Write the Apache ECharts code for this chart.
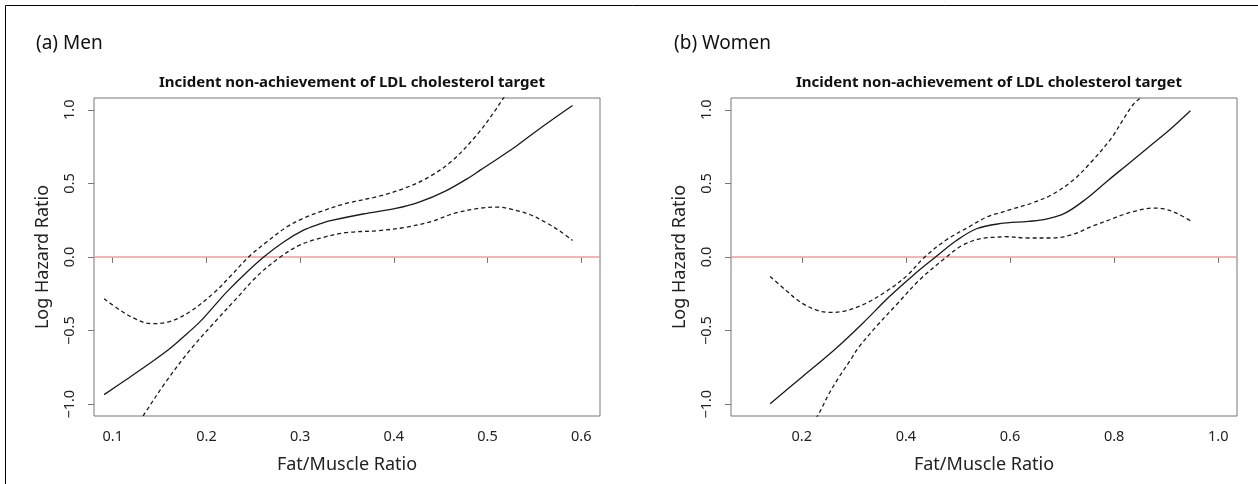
<!DOCTYPE html>
<html>
<head>
<meta charset="utf-8">
<script src="https://cdn.jsdelivr.net/npm/echarts@6/dist/echarts.min.js"></script>
<style>
  html, body { margin: 0; padding: 0; background: #ffffff; }
  #chart { width: 1258px; height: 484px; }
</style>
</head>
<body>
<div id="chart"></div>
<script>
// ---- Data ----
const panelLabels = ['(a) Men', '(b) Women'];
const panelTitle = 'Incident non-achievement of LDL cholesterol target';
const xAxisName = 'Fat/Muscle Ratio';
const yAxisName = 'Log Hazard Ratio';

const menXTicks = [0.1, 0.2, 0.3, 0.4, 0.5, 0.6];
const womenXTicks = [0.2, 0.4, 0.6, 0.8, 1.0];
const yTicks = [-1.0, -0.5, 0.0, 0.5, 1.0];

// Men: log hazard ratio estimate and 95% CI (x, y)
const menFit = [
  [0.0908,-0.935],[0.115,-0.83],[0.14,-0.72],[0.1597,-0.629],[0.175,-0.545],
  [0.1935,-0.437],[0.21,-0.32],[0.222,-0.235],[0.2433,-0.102],[0.2611,0.0],
  [0.2824,0.102],[0.3036,0.182],[0.3216,0.226],[0.33,0.243],[0.367,0.292],
  [0.402,0.330],[0.427,0.373],[0.455,0.448],[0.483,0.55],[0.4922,0.59],
  [0.5064,0.649],[0.5277,0.74],[0.549,0.841],[0.5704,0.939],[0.5907,1.029]
];
const menUpper = [
  [0.0908,-0.284],[0.1096,-0.369],[0.1257,-0.425],[0.1402,-0.453],[0.1615,-0.437],
  [0.1829,-0.369],[0.2077,-0.245],[0.2255,-0.131],[0.245,0.0],[0.2646,0.104],
  [0.2859,0.205],[0.3036,0.264],[0.3216,0.308],[0.3479,0.362],[0.3834,0.412],
  [0.4118,0.468],[0.4367,0.541],[0.4616,0.65],[0.49,0.84],[0.5064,0.98],
  [0.518,1.09],[0.526,1.17]
];
const menLower = [
  [0.12,-1.2],[0.1345,-1.059],[0.1559,-0.855],[0.1829,-0.629],[0.2113,-0.425],
  [0.2326,-0.278],[0.2539,-0.131],[0.2788,0.0],[0.3,0.082],[0.3216,0.128],
  [0.3479,0.165],[0.3834,0.179],[0.4118,0.201],[0.4403,0.242],[0.4652,0.298],
  [0.4922,0.332],[0.51,0.339],[0.5277,0.321],[0.5455,0.287],[0.5634,0.230],
  [0.5776,0.174],[0.5907,0.113]
];

// Women: log hazard ratio estimate and 95% CI (x, y)
const womenFit = [
  [0.1392,-0.996],[0.2,-0.817],[0.2666,-0.618],[0.3177,-0.448],[0.3689,-0.267],
  [0.4137,-0.125],[0.457,0.0],[0.4971,0.112],[0.5355,0.192],[0.5803,0.226],
  [0.6353,0.242],[0.6673,0.255],[0.7057,0.298],[0.7441,0.389],[0.79,0.525],
  [0.83,0.64],[0.8683,0.752],[0.9067,0.864],[0.9465,0.993]
];
const womenUpper = [
  [0.1392,-0.132],[0.168,-0.222],[0.2,-0.313],[0.232,-0.365],[0.2538,-0.376],
  [0.2794,-0.369],[0.3177,-0.324],[0.3626,-0.233],[0.401,-0.13],[0.4362,0.0],
  [0.4779,0.117],[0.5227,0.208],[0.5547,0.271],[0.5803,0.300],[0.6033,0.325],
  [0.6417,0.366],[0.6801,0.423],[0.7185,0.514],[0.7569,0.649],[0.7948,0.808],
  [0.817,0.932],[0.8363,1.034],[0.8524,1.09],[0.865,1.16]
];
const womenLower = [
  [0.22,-1.14],[0.2352,-1.048],[0.2512,-0.935],[0.2704,-0.822],[0.296,-0.686],
  [0.3082,-0.618],[0.3434,-0.471],[0.3818,-0.324],[0.4266,-0.154],[0.4779,0.0],
  [0.5099,0.082],[0.5483,0.128],[0.5739,0.134],[0.5905,0.138],[0.6353,0.129],
  [0.6801,0.129],[0.7185,0.151],[0.7569,0.208],[0.7915,0.253],[0.8171,0.287],
  [0.8427,0.314],[0.8747,0.332],[0.8939,0.328],[0.9196,0.298],[0.9465,0.246]
];

// ---- Chart ----
const FONT = 'Noto Sans';
const boxColor = '#777777';
const inkColor = '#1a1a1a';
const refColor = '#f29a9a';

const fmt = v => (Math.abs(v) < 1e-9 ? 0 : v).toFixed(1).replace('-', '\u2212');

function xAxisFor(idx, lo, hi, ticks) {
  return {
    type: 'value', gridIndex: idx, min: lo, max: hi,
    axisLine: { show: false },
    splitLine: { show: false },
    axisTick: { show: true, customValues: ticks, length: 6, lineStyle: { color: boxColor, width: 1 } },
    axisLabel: { customValues: ticks, formatter: fmt, fontFamily: FONT, fontSize: 14.5, color: '#222', margin: 13 },
    name: xAxisName, nameLocation: 'middle', nameGap: 40,
    nameTextStyle: { fontFamily: FONT, fontSize: 18, color: '#222' }
  };
}
function yAxisFor(idx) {
  return {
    type: 'value', gridIndex: idx, min: -1.08, max: 1.08,
    axisLine: { show: false },
    splitLine: { show: false },
    axisTick: { show: true, customValues: yTicks, length: 6, lineStyle: { color: boxColor, width: 1 } },
    axisLabel: { customValues: yTicks, formatter: fmt, rotate: 90, fontFamily: FONT, fontSize: 14.5, color: '#222', margin: 17 },
    name: yAxisName, nameLocation: 'middle', nameGap: 42,
    nameTextStyle: { fontFamily: FONT, fontSize: 18, color: '#222' }
  };
}
function curve(idx, data, dashed, withRef) {
  const s = {
    type: 'line', xAxisIndex: idx, yAxisIndex: idx, data: data,
    showSymbol: false, smooth: 0.35, clip: true, silent: true,
    lineStyle: { color: inkColor, width: 1.3, type: dashed ? [4, 3] : 'solid' },
    z: 3
  };
  if (withRef) {
    s.markLine = {
      silent: true, symbol: ['none', 'none'], label: { show: false },
      lineStyle: { color: refColor, width: 1.5, type: 'solid' },
      data: [{ yAxis: 0 }], z: 2
    };
  }
  return s;
}

const chart = echarts.init(document.getElementById('chart'), null, { renderer: 'canvas' });
chart.setOption({
  animation: false,
  backgroundColor: '#ffffff',
  title: [
    { text: panelLabels[0], left: 31, top: 29, textStyle: { fontFamily: FONT, fontSize: 19, fontWeight: 'normal', color: '#111' } },
    { text: panelLabels[1], left: 669, top: 29, textStyle: { fontFamily: FONT, fontSize: 19, fontWeight: 'normal', color: '#111' } },
    { text: panelTitle, left: 347, top: 70, textAlign: 'center', textStyle: { fontFamily: FONT, fontSize: 15, fontWeight: 'bold', color: '#111' } },
    { text: panelTitle, left: 984, top: 70, textAlign: 'center', textStyle: { fontFamily: FONT, fontSize: 15, fontWeight: 'bold', color: '#111' } }
  ],
  grid: [
    { left: 94, top: 98, width: 506, height: 318, show: true, borderColor: boxColor, borderWidth: 1, backgroundColor: 'transparent' },
    { left: 731, top: 98, width: 506, height: 318, show: true, borderColor: boxColor, borderWidth: 1, backgroundColor: 'transparent' }
  ],
  xAxis: [ xAxisFor(0, 0.08, 0.62, menXTicks), xAxisFor(1, 0.064, 1.036, womenXTicks) ],
  yAxis: [ yAxisFor(0), yAxisFor(1) ],
  series: [
    curve(0, menFit, false, true),
    curve(0, menUpper, true, false),
    curve(0, menLower, true, false),
    curve(1, womenFit, false, true),
    curve(1, womenUpper, true, false),
    curve(1, womenLower, true, false)
  ],
  graphic: [
    { type: 'rect', silent: true, shape: { x: 5.5, y: 5.5, width: 1400, height: 700 },
      style: { fill: 'none', stroke: '#000', lineWidth: 1 }, z: 10 }
  ]
});
</script>
</body>
</html>
